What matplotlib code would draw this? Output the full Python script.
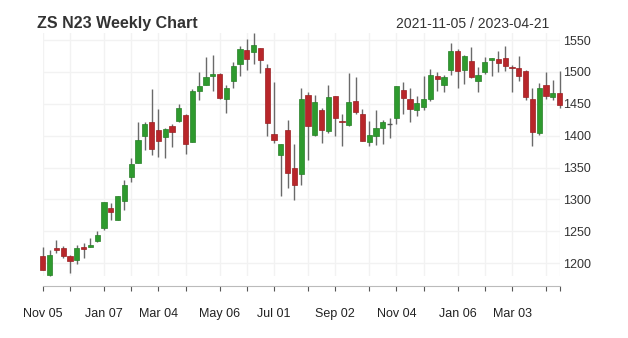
#!/usr/bin/env python3
# -*- coding: utf-8 -*-

import matplotlib
matplotlib.use("Agg")
import matplotlib.pyplot as plt
import numpy as np
import pandas as pd

# weekly bars, soybeans July 2023 contract
dates = pd.date_range("2021-11-05", "2023-04-21", freq="W-FRI")

opens = [1212, 1181, 1224.5, 1223.5, 1212, 1205.5, 1225.5, 1225.5, 1235, 1256,
         1286.5, 1268, 1298, 1335.5, 1357.25, 1399.5, 1421.25, 1409, 1398.5, 1415,
         1423, 1432.75, 1390, 1469.75, 1480.25, 1494.25, 1497.5, 1458.25, 1485, 1513,
         1533.75, 1530.75, 1537, 1505.75, 1402, 1369.25, 1408.25, 1350, 1339.5, 1463.5,
         1401, 1441, 1407.25, 1462.5, 1423, 1417.25, 1454.25, 1434, 1390.5, 1399.5,
         1411.5, 1418.25, 1428, 1472, 1458.25, 1440, 1444.75, 1457.25, 1494.25, 1479.75,
         1502.5, 1532.25, 1503, 1517.25, 1486.5, 1500.5, 1518.25, 1520.25, 1522, 1507.75,
         1506.25, 1501.5, 1457.25, 1404.75, 1479.25, 1460.5, 1466.75]
highs = [1225, 1221, 1237, 1227.5, 1213, 1229, 1232, 1239, 1251, 1296,
         1293.75, 1305.75, 1331, 1364.5, 1422, 1421, 1472.5, 1442, 1412.5, 1417.75,
         1449, 1434.5, 1473.5, 1500, 1523.5, 1527, 1497.5, 1479, 1515.5, 1541,
         1552, 1561, 1537, 1513, 1484, 1386.5, 1424.5, 1387.5, 1474.5, 1468.25,
         1464.5, 1443.75, 1479.25, 1462.5, 1434.5, 1497.5, 1491.75, 1442.25, 1423, 1440,
         1424, 1427, 1477.5, 1484, 1474.5, 1462, 1494.25, 1504.25, 1499.5, 1495.75,
         1545.25, 1536, 1527, 1539, 1507.75, 1523, 1522, 1532.25, 1540, 1511.5,
         1524.5, 1502.5, 1475, 1482.75, 1500, 1488, 1501]
lows = [1189, 1180, 1216.5, 1208, 1184, 1199, 1209, 1225, 1234, 1252,
        1268, 1268, 1283, 1327.5, 1357, 1377, 1369, 1366.75, 1365.5, 1382.25,
        1421.5, 1370.75, 1390, 1456, 1479, 1469.75, 1456.75, 1435, 1474.5, 1493,
        1502.5, 1512.5, 1498.5, 1399.5, 1389, 1305.75, 1317.25, 1299, 1323, 1362.5,
        1399.5, 1389, 1404.75, 1399, 1384, 1414.5, 1433.25, 1392, 1384, 1385,
        1386.5, 1395.75, 1417.75, 1434.5, 1421.5, 1430.75, 1440, 1454.25, 1470.75, 1469.25,
        1495.75, 1475, 1481, 1491, 1469.25, 1496.5, 1493.25, 1500, 1502, 1468.25,
        1485.5, 1455.25, 1384, 1400.5, 1456.75, 1455.25, 1443.75]
closes = [1190, 1213, 1221.5, 1212, 1204, 1224.5, 1223, 1228, 1245, 1296,
          1281, 1304.75, 1322, 1355, 1392.75, 1417.75, 1378.5, 1391.75, 1410, 1406.25,
          1443.25, 1387, 1470.75, 1478.5, 1491.75, 1496.5, 1459.5, 1475.5, 1510, 1536,
          1520.75, 1541.75, 1518.25, 1420.25, 1392.75, 1386.5, 1341, 1323, 1456.75, 1414.5,
          1453.5, 1409.5, 1460, 1427, 1420.75, 1453, 1436.5, 1392.25, 1401, 1412.5,
          1421.5, 1418.25, 1477.5, 1459.5, 1442.25, 1452, 1457.75, 1495.25, 1489, 1491.75,
          1532.25, 1502, 1524.5, 1492.25, 1494.75, 1515.5, 1522, 1514, 1509, 1505.75,
          1494.25, 1460.5, 1406.25, 1475, 1462, 1466.75, 1448]

up_col = "#2e9a2e"
dn_col = "#b8262a"
grid_col = "#f2f2f2"
txt_col = "#333333"

fig = plt.figure(figsize=(6.28, 3.38), dpi=100)
W, H = 628.0, 338.0
ax = fig.add_axes([42.8 / W, 62 / H, (559.6 - 42.8) / W, 243 / H])

n = len(dates)
x = np.arange(n)
ax.set_xlim(0, n - 1)
ax.set_ylim(min(lows), max(highs))

# grid
yticks = np.arange(1200, 1551, 50)
for yv in yticks:
    ax.axhline(yv, color=grid_col, lw=1, zorder=0)

# first bar of every month gets a tick, every other month a label
months = dates.to_period("M")
month_idx = [0] + [i for i in range(1, n) if months[i] != months[i - 1]]
tick_pos = month_idx + [n - 1]
tick_lab = []
for k, i in enumerate(tick_pos):
    if i in month_idx and k % 2 == 0:
        tick_lab.append(dates[i].strftime("%b %d"))
    else:
        tick_lab.append("")
for i in tick_pos:
    ax.axvline(i, color=grid_col, lw=1, zorder=0)

# candles
for i in range(n):
    o, h, l, c = opens[i], highs[i], lows[i], closes[i]
    ax.vlines(i, l, h, color="#6a6a6a", lw=1, zorder=2, clip_on=False)
    if c > o:
        ax.bar(i, c - o, bottom=o, width=0.78, color=up_col,
               edgecolor="#267f26", lw=0.5, zorder=3, clip_on=False)
    elif c < o:
        ax.bar(i, o - c, bottom=c, width=0.78, color=dn_col,
               edgecolor="#9a1f22", lw=0.5, zorder=3, clip_on=False)
    else:
        ax.hlines(o, i - 0.39, i + 0.39, color="#555555", lw=1, zorder=3)

for s in ["top", "left", "right"]:
    ax.spines[s].set_visible(False)
ax.spines["bottom"].set_position(("outward", 7.2))
ax.spines["bottom"].set_color("#bbbbbb")
ax.spines["bottom"].set_linewidth(0.8)

ax.set_xticks(tick_pos)
ax.set_xticklabels(tick_lab)
ax.tick_params(axis="x", direction="out", length=3.6, width=0.8,
               color="#555555", labelsize=9, labelcolor="#222222", pad=12)

ax.yaxis.tick_right()
ax.set_yticks(yticks)
ax.set_yticklabels([str(v) for v in yticks])
ax.tick_params(axis="y", length=0, labelsize=9, labelcolor=txt_col, pad=2.5)
for lab in ax.get_yticklabels():
    lab.set_horizontalalignment("left")

fig.text(37 / W, 1 - 28 / H, "ZS N23 Weekly Chart", fontsize=11.5,
         fontweight="bold", color=txt_col, family="Liberation Sans")
fig.text(549 / W, 1 - 28 / H, "%s / %s" % (dates[0].strftime("%Y-%m-%d"),
         dates[-1].strftime("%Y-%m-%d")), fontsize=10, ha="right",
         color=txt_col, family="Liberation Sans")
for lab in ax.get_xticklabels() + ax.get_yticklabels():
    lab.set_family("Liberation Sans")

plt.savefig("out.png", dpi=100)
plt.close()
